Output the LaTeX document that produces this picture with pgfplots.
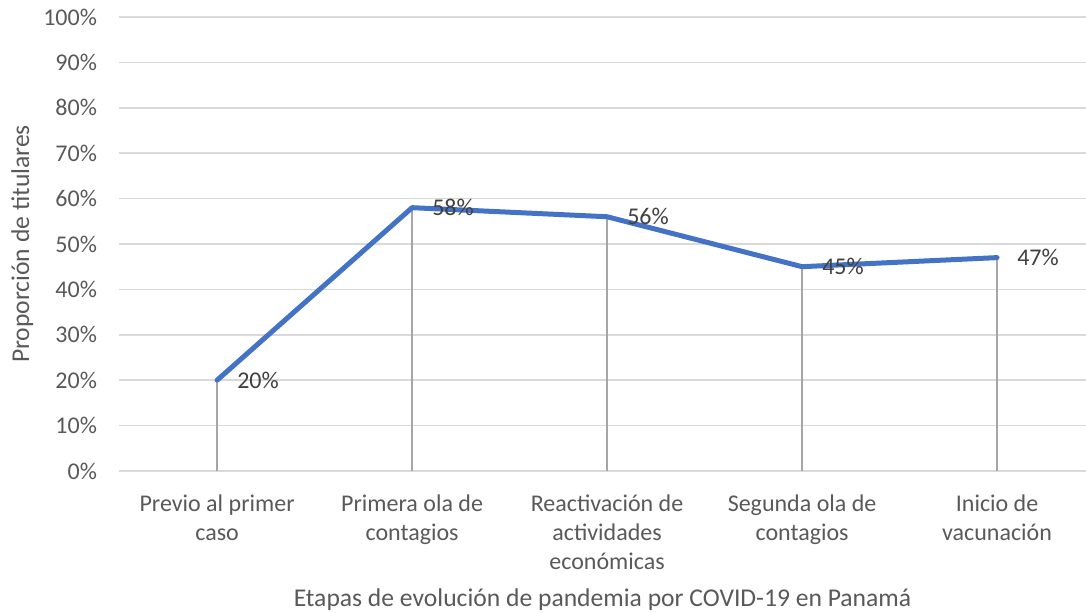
\documentclass[border=0pt]{standalone}
\usepackage{pgfplots}
\pgfplotsset{compat=1.18}
\usepackage{fontspec}
\setmainfont{Carlito}
\definecolor{lineblue}{HTML}{4472C4}
\definecolor{gridgray}{HTML}{D9D9D9}
\definecolor{dropgray}{HTML}{A6A6A6}
\definecolor{textgray}{HTML}{595959}
\definecolor{labelgray}{HTML}{404040}
\begin{document}
\begin{tikzpicture}
\begin{axis}[
  at={(0,0)}, anchor=south west,
  scale only axis, width=483.5pt, height=227pt,
  xmin=-0.503, xmax=4.456, ymin=0, ymax=100,
  xtick={0,1,2,3,4},
  xticklabels={{Previo al primer\\caso},{Primera ola de\\contagios},{Reactivación de\\actividades\\económicas},{Segunda ola de\\contagios},{Inicio de\\vacunación}},
  ytick={0,10,...,100},
  yticklabel={\pgfmathprintnumber{\tick}\%},
  /pgf/number format/assume math mode=true,
  ymajorgrids, grid style={draw=gridgray, line width=0.75pt},
  axis line style={draw=none}, major tick length=0pt,
  tick label style={font=\fontsize{12}{14.5}\selectfont, text=textgray},
  xticklabel style={align=center, yshift=-8.5pt},
  yticklabel style={xshift=-7.5pt},
  xlabel={Etapas de evolución de pandemia por COVID-19 en Panamá},
  ylabel={Proporción de titulares},
  label style={font=\fontsize{12.8}{15}\selectfont, text=textgray},
  xlabel style={at={(axis description cs:0.5,-0.2841)}, anchor=center},
  ylabel style={at={(axis description cs:-0.1000,0.5)}, anchor=center},
  clip=false,
]
\addplot[ycomb, draw=dropgray, line width=0.75pt, no markers] coordinates {(0,20) (1,58) (2,56) (3,45) (4,47)};
\addplot[lineblue, line width=2.5pt, line join=round, line cap=round, no markers,
  nodes near coords={\pgfmathprintnumber{\pgfplotspointmeta}\%},
  nodes near coords align={anchor=west},
  every node near coord/.append style={font=\fontsize{12}{14}\selectfont, text=labelgray, xshift=5.5pt}]
  coordinates {(0,20) (1,58) (2,56) (3,45) (4,47)};
\end{axis}
\pgfresetboundingbox
\path (-59.5pt,-71pt) rectangle (483.5pt,235.5pt);
\end{tikzpicture}
\end{document}
